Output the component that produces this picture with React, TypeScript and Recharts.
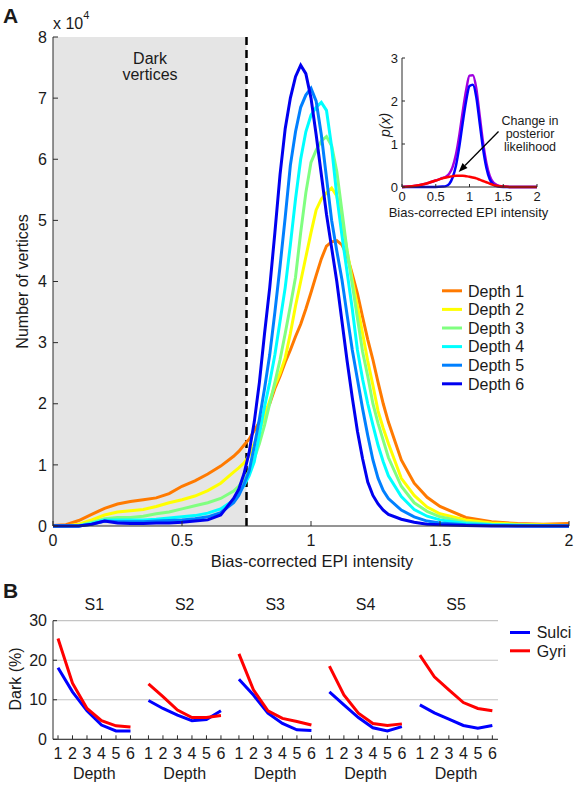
import React from 'react';
import {
  LineChart,
  Line,
  XAxis,
  YAxis,
  ReferenceArea,
  ReferenceLine,
  ReferenceDot,
  CartesianGrid,
} from 'recharts';

const FONT = '"Liberation Sans", Arial, Helvetica, sans-serif';
const INK = '#1a1a1a';
const AXIS = '#2b2b2b';

// ---- Panel A: number of vertices (x 10^4) per bias-corrected EPI intensity
const intensity = [
  0, 0.05, 0.1, 0.15, 0.2, 0.25, 0.3, 0.35, 0.4, 0.45, 0.5, 0.55, 0.6, 0.65, 0.7,
  0.72, 0.74, 0.76, 0.78, 0.8, 0.82, 0.84, 0.86, 0.88, 0.9, 0.92, 0.94, 0.96, 0.98, 1.0,
  1.02, 1.04, 1.06, 1.08, 1.1, 1.12, 1.14, 1.16, 1.18, 1.2, 1.22, 1.24, 1.26, 1.28, 1.3,
  1.35, 1.4, 1.45, 1.5, 1.6, 1.7, 1.8, 1.9, 2.0,
];
const depth1 = [
  0.01, 0.02, 0.09, 0.19, 0.29, 0.36, 0.4, 0.43, 0.46, 0.53, 0.65, 0.74, 0.85, 0.98, 1.14,
  1.22, 1.32, 1.42, 1.56, 1.7, 1.85, 2.0, 2.25, 2.45, 2.68, 2.88, 3.1, 3.3, 3.55, 3.82,
  4.1, 4.37, 4.58, 4.65, 4.67, 4.6, 4.42, 4.12, 3.8, 3.42, 3.05, 2.72, 2.35, 2.0, 1.7,
  1.08, 0.7, 0.47, 0.32, 0.14, 0.07, 0.04, 0.03, 0.04,
];
const depth2 = [
  0, 0, 0.03, 0.1, 0.18, 0.23, 0.25, 0.27, 0.32, 0.38, 0.43, 0.49, 0.58, 0.7, 0.88,
  0.95, 1.03, 1.15, 1.35, 1.55, 1.8, 2.05, 2.3, 2.5, 2.75, 3.15, 3.6, 4.0, 4.4, 4.8,
  5.17, 5.35, 5.45, 5.53, 5.4, 5.0, 4.5, 4.03, 3.6, 3.15, 2.7, 2.3, 1.88, 1.6, 1.35,
  0.78, 0.5, 0.31, 0.2, 0.1, 0.05, 0.03, 0.02, 0.01,
];
const depth3 = [
  0, 0, 0.01, 0.06, 0.12, 0.14, 0.14, 0.16, 0.2, 0.23, 0.28, 0.33, 0.38, 0.45, 0.57,
  0.65, 0.76, 0.9, 1.1, 1.35, 1.65, 2.0, 2.35, 2.72, 3.15, 3.6, 4.07, 4.8, 5.45, 5.95,
  6.15, 6.3, 6.37, 6.22, 5.8, 5.15, 4.5, 3.95, 3.4, 2.85, 2.45, 2.0, 1.68, 1.4, 1.12,
  0.65, 0.38, 0.24, 0.15, 0.06, 0.03, 0.02, 0.01, 0,
];
const depth4 = [
  0, 0, 0, 0.04, 0.1, 0.1, 0.1, 0.1, 0.11, 0.13, 0.15, 0.17, 0.21, 0.28, 0.42,
  0.55, 0.66, 0.82, 1.05, 1.5, 1.95, 2.35, 2.8, 3.35, 3.9, 4.6, 5.35, 6.0, 6.45, 6.72,
  6.85, 6.93, 6.8, 6.2, 5.4, 4.75, 4.15, 3.55, 2.88, 2.4, 2.0, 1.65, 1.32, 1.05, 0.82,
  0.48, 0.27, 0.16, 0.1, 0.04, 0.02, 0.01, 0, 0,
];
const depth5 = [
  0, 0, 0, 0.03, 0.08, 0.07, 0.07, 0.07, 0.08, 0.09, 0.1, 0.12, 0.15, 0.22, 0.38,
  0.5, 0.68, 0.9, 1.3, 1.75, 2.25, 2.8, 3.5, 4.25, 5.05, 5.9, 6.45, 6.85, 7.05, 7.16,
  6.95, 6.4, 5.7, 5.0, 4.5, 4.03, 3.45, 2.88, 2.4, 1.92, 1.48, 1.08, 0.78, 0.58, 0.45,
  0.26, 0.15, 0.08, 0.05, 0.02, 0.01, 0, 0, 0,
];
const depth6 = [
  0, 0, 0, 0.03, 0.08, 0.05, 0.04, 0.04, 0.05, 0.05, 0.06, 0.08, 0.1, 0.18, 0.45,
  0.6, 0.85, 1.2, 1.7, 2.35, 3.15, 3.9, 4.8, 5.75, 6.5, 7.0, 7.35, 7.54, 7.4, 7.0,
  6.4, 5.75, 5.1, 4.55, 4.0, 3.35, 2.7, 2.1, 1.55, 1.1, 0.72, 0.5, 0.36, 0.26, 0.19,
  0.11, 0.06, 0.03, 0.02, 0.01, 0, 0, 0, 0,
];
const depthLabels = ['Depth 1', 'Depth 2', 'Depth 3', 'Depth 4', 'Depth 5', 'Depth 6'];
const depthColors = ['#ff7a00', '#ffff00', '#80ff80', '#00ffff', '#0080ff', '#0000f0'];
const intensityTicks = [0, 0.5, 1, 1.5, 2];
const countTicks = [0, 1, 2, 3, 4, 5, 6, 7, 8];
const DARK_CUTOFF = 0.75;

// ---- Inset: mixture model p(x)
const insetIntensity = [
  0, 0.1, 0.2, 0.3, 0.4, 0.5, 0.6, 0.65, 0.7, 0.75, 0.8, 0.85, 0.9, 0.95, 1.0,
  1.05, 1.1, 1.15, 1.2, 1.25, 1.3, 1.35, 1.4, 1.5, 1.6, 1.7, 1.8, 1.9, 2.0,
];
const insetMixture = [
  0, 0.01, 0.03, 0.06, 0.1, 0.15, 0.21, 0.24, 0.31, 0.47, 0.76, 1.21, 1.76, 2.25, 2.59,
  2.6, 2.3, 1.67, 1.04, 0.56, 0.26, 0.11, 0.05, 0.01, 0, 0, 0, 0, 0,
];
const insetBright = [
  0, 0, 0, 0, 0, 0, 0.01, 0.02, 0.07, 0.22, 0.5, 0.95, 1.5, 2.0, 2.35,
  2.38, 2.1, 1.5, 0.9, 0.45, 0.18, 0.06, 0.02, 0, 0, 0, 0, 0, 0,
];
const insetDark = [
  0, 0.01, 0.03, 0.06, 0.1, 0.15, 0.2, 0.22, 0.24, 0.25, 0.26, 0.26, 0.26, 0.25, 0.24,
  0.22, 0.2, 0.17, 0.14, 0.11, 0.08, 0.05, 0.03, 0.01, 0, 0, 0, 0, 0,
];
const insetTicksY = [0, 1, 2, 3];

// ---- Panel B: dark vertices (%) per depth, per subject
const subjects = ['S1', 'S2', 'S3', 'S4', 'S5'];
const depths = [1, 2, 3, 4, 5, 6];
const sulciDark = [
  [18.1, 12.0, 7.2, 3.6, 2.1, 2.1],
  [9.8, 7.8, 6.1, 4.7, 5.0, 7.2],
  [15.2, 11.2, 6.6, 4.0, 2.4, 2.2],
  [12.0, 8.7, 5.5, 2.9, 2.1, 3.2],
  [8.7, 6.7, 5.1, 3.5, 2.8, 3.5],
];
const gyriDark = [
  [25.5, 14.2, 7.8, 4.7, 3.4, 3.1],
  [14.0, 10.8, 7.4, 5.5, 5.5, 6.0],
  [21.6, 12.5, 7.2, 5.3, 4.5, 3.6],
  [18.5, 11.2, 6.6, 4.0, 3.5, 3.9],
  [21.3, 15.8, 12.5, 9.3, 7.8, 7.2],
];
const darkTicks = [0, 10, 20, 30];

const depthSeries = [depth1, depth2, depth3, depth4, depth5, depth6];
const histData = intensity.map((x, i) => {
  const row: Record<string, number> = { x };
  depthSeries.forEach((s, k) => {
    row[`d${k + 1}`] = s[i];
  });
  return row;
});

const insetData = insetIntensity.map((x, i) => ({
  x,
  mixture: insetMixture[i],
  bright: insetBright[i],
  dark: insetDark[i],
}));

// subplots of panel B share one numeric axis, shifted by SUBJ_STEP
const SUBJ_STEP = 6.24;
const darkData = subjects.flatMap((_, s) => {
  const rows: { x: number; sulci: number | null; gyri: number | null }[] = depths.map((d, i) => ({
    x: s * SUBJ_STEP + d,
    sulci: sulciDark[s][i],
    gyri: gyriDark[s][i],
  }));
  if (s < subjects.length - 1) rows.push({ x: s * SUBJ_STEP + 6.6, sulci: null, gyri: null });
  return rows;
});
const depthTickPos = subjects.flatMap((_, s) => depths.map((d) => s * SUBJ_STEP + d));
const depthOfTick = (v: number) =>
  String(Math.round(v - SUBJ_STEP * Math.floor((v - 0.5) / SUBJ_STEP)));

const tickStyle = (size: number) => ({ fill: INK, fontSize: size, fontFamily: FONT });

const ArrowShape = (p: any) => {
  const { x1, y1, x2, y2 } = p;
  if (![x1, y1, x2, y2].every((v) => typeof v === 'number')) return <g />;
  const ang = Math.atan2(y2 - y1, x2 - x1);
  const L = 9;
  const W = 3.5;
  const bx = x2 - L * Math.cos(ang);
  const by = y2 - L * Math.sin(ang);
  const pts = `${x2},${y2} ${bx - W * Math.sin(ang)},${by + W * Math.cos(ang)} ${bx + W * Math.sin(ang)},${by - W * Math.cos(ang)}`;
  return (
    <g>
      <line x1={x1} y1={y1} x2={bx} y2={by} stroke="#000" strokeWidth={1.3} />
      <polygon points={pts} fill="#000" />
    </g>
  );
};

export default function App() {
  return (
    <div style={{ position: 'absolute', left: 0, top: 0, width: 578, height: 786, background: '#fff', fontFamily: FONT }}>
      {/* Panel A main histogram */}
      <div style={{ position: 'absolute', left: 0, top: 0 }}>
        <LineChart width={578} height={570} data={histData} margin={{ top: 37, right: 9, bottom: 14, left: 0 }}>
          <ReferenceArea x1={0} x2={DARK_CUTOFF} y1={0} y2={8} fill="#e5e5e5" fillOpacity={1} stroke="none" />
          <XAxis
            dataKey="x"
            type="number"
            domain={[0, 2]}
            ticks={intensityTicks}
            interval={0}
            height={30}
            tickSize={-5}
            tickMargin={14}
            stroke={AXIS}
            tick={tickStyle(16)}
          />
          <YAxis
            type="number"
            domain={[0, 8]}
            ticks={countTicks}
            interval={0}
            width={53}
            tickSize={-5}
            tickMargin={11}
            stroke={AXIS}
            tick={tickStyle(16)}
          />
          <ReferenceLine x={DARK_CUTOFF} stroke="#000" strokeWidth={2.5} strokeDasharray="8 5" />
          {depthLabels.map((name, k) => (
            <Line
              key={name}
              name={name}
              dataKey={`d${k + 1}`}
              type="linear"
              stroke={depthColors[k]}
              strokeWidth={3}
              dot={false}
              isAnimationActive={false}
            />
          ))}
        </LineChart>
      </div>

      {/* Inset: mixture model */}
      <div style={{ position: 'absolute', left: 370, top: 40 }}>
        <LineChart width={180} height={185} data={insetData} margin={{ top: 18, right: 13, bottom: 18, left: 0 }}>
          <XAxis
            dataKey="x"
            type="number"
            domain={[0, 2]}
            ticks={intensityTicks}
            interval={0}
            height={20}
            tickSize={-3}
            tickMargin={8}
            stroke={AXIS}
            tick={tickStyle(13)}
          />
          <YAxis
            type="number"
            domain={[0, 3]}
            ticks={insetTicksY}
            interval={0}
            width={32}
            tickSize={-3}
            tickMargin={7}
            stroke={AXIS}
            tick={tickStyle(13)}
          />
          <Line dataKey="mixture" type="monotone" stroke="#a000e0" strokeWidth={2.5} dot={false} isAnimationActive={false} />
          <Line dataKey="bright" type="monotone" stroke="#0000ff" strokeWidth={2.5} dot={false} isAnimationActive={false} />
          <Line dataKey="dark" type="monotone" stroke="#ff0000" strokeWidth={2.5} dot={false} isAnimationActive={false} />
          <ReferenceLine
            segment={[
              { x: 1.43, y: 1.29 },
              { x: 0.84, y: 0.35 },
            ]}
            shape={ArrowShape}
          />
        </LineChart>
      </div>

      {/* Panel B: dark vertices per depth */}
      <div style={{ position: 'absolute', left: 0, top: 590 }}>
        <LineChart width={578} height={196} data={darkData} margin={{ top: 30.7, right: 80, bottom: 16.7, left: 0 }}>
          <CartesianGrid horizontal vertical={false} stroke="#c4c4c4" strokeWidth={1.2} />
          <XAxis
            dataKey="x"
            type="number"
            domain={[0.655, 31.35]}
            ticks={depthTickPos}
            tickFormatter={depthOfTick}
            interval={0}
            height={30}
            tickSize={-4}
            tickMargin={12.5}
            stroke={AXIS}
            tick={tickStyle(16)}
          />
          <YAxis
            type="number"
            domain={[0, 30]}
            ticks={darkTicks}
            interval={0}
            width={53}
            tickSize={-4}
            tickMargin={10}
            stroke={AXIS}
            tick={tickStyle(16)}
          />
          <Line dataKey="sulci" name="Sulci" stroke="#0000ff" strokeWidth={3} dot={false} isAnimationActive={false} />
          <Line dataKey="gyri" name="Gyri" stroke="#ff0000" strokeWidth={3} dot={false} isAnimationActive={false} />
          {subjects.map((s, i) => (
            <ReferenceDot
              key={`t${s}`}
              x={i * SUBJ_STEP + 3.5}
              y={30}
              r={0}
              stroke="none"
              fill="none"
              label={{ value: s, position: 'top', offset: 10.7, fill: INK, fontSize: 16, fontFamily: FONT }}
            />
          ))}
          {subjects.map((s, i) => (
            <ReferenceDot
              key={`d${s}`}
              x={i * SUBJ_STEP + 3.5}
              y={0}
              r={0}
              stroke="none"
              fill="none"
              label={{ value: 'Depth', position: 'bottom', offset: 28, fill: INK, fontSize: 16, fontFamily: FONT }}
            />
          ))}
        </LineChart>
      </div>

      {/* titles, legends, annotations */}
      <svg
        width={578}
        height={786}
        style={{ position: 'absolute', left: 0, top: 0, pointerEvents: 'none' }}
        fontFamily={FONT}
        fill={INK}
      >
        <text x={3} y={23} fontSize={21} fontWeight="bold">A</text>
        <text x={3} y={598} fontSize={21} fontWeight="bold">B</text>
        <text x={53} y={28.5} fontSize={16}>
          x 10<tspan dy={-10} fontSize={11}>4</tspan>
        </text>
        <text x={150} y={64.2} fontSize={16} textAnchor="middle">Dark</text>
        <text x={150} y={80} fontSize={16} textAnchor="middle">vertices</text>
        <text x={312} y={566.5} fontSize={16.5} textAnchor="middle">Bias-corrected EPI intensity</text>
        <text transform="translate(28.2,281.5) rotate(-90)" fontSize={16} textAnchor="middle">Number of vertices</text>

        {depthLabels.map((name, k) => {
          const cy = 290.8 + k * 18.6;
          return (
            <g key={name}>
              <line x1={442} x2={462} y1={cy} y2={cy} stroke={depthColors[k]} strokeWidth={3} />
              <text x={468} y={cy + 5.7} fontSize={16}>{name}</text>
            </g>
          );
        })}

        <text transform="translate(390,125) rotate(-90)" fontSize={14} fontStyle="italic" textAnchor="middle">p(x)</text>
        <text x={468.5} y={216.7} fontSize={13} textAnchor="middle">Bias-corrected EPI intensity</text>
        <text x={530} y={124.5} fontSize={12.5} textAnchor="middle">Change in</text>
        <text x={530} y={137.5} fontSize={12.5} textAnchor="middle">posterior</text>
        <text x={530} y={150.5} fontSize={12.5} textAnchor="middle">likelihood</text>

        <text transform="translate(20.5,679) rotate(-90)" fontSize={16} textAnchor="middle">Dark (%)</text>
        <line x1={510} x2={530} y1={632.5} y2={632.5} stroke="#0000ff" strokeWidth={3} />
        <text x={536.7} y={638.2} fontSize={16}>Sulci</text>
        <line x1={510} x2={530} y1={650.8} y2={650.8} stroke="#ff0000" strokeWidth={3} />
        <text x={536.7} y={656.5} fontSize={16}>Gyri</text>
      </svg>
    </div>
  );
}
